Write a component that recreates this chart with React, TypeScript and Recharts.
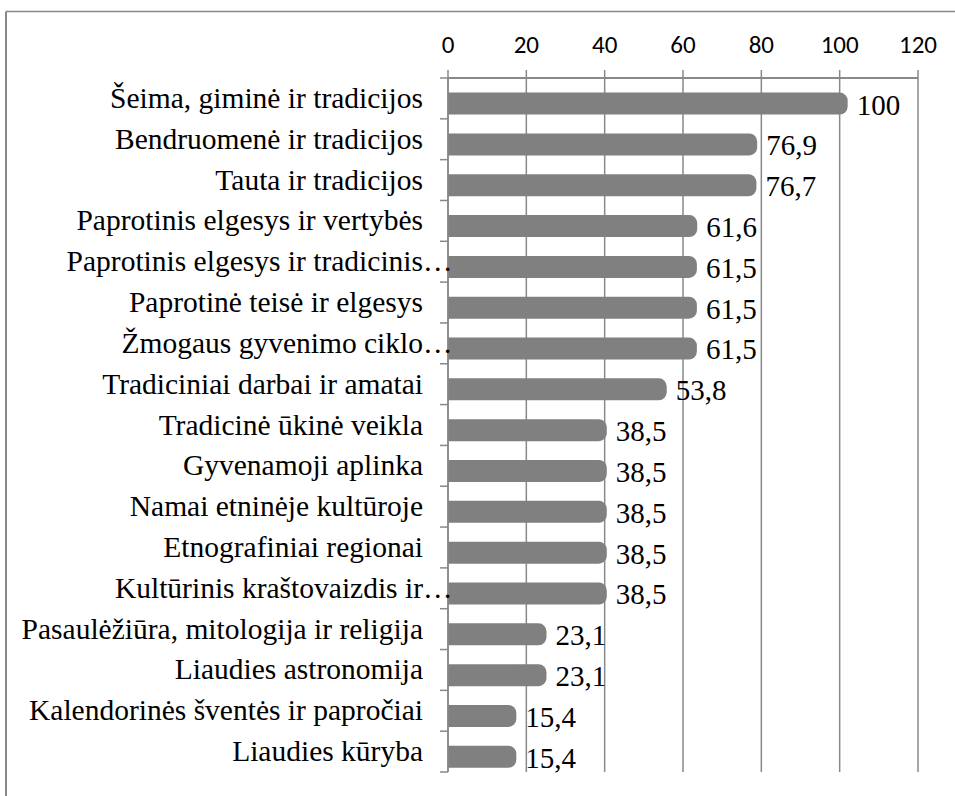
import React from "react";
import {
  Bar,
  BarChart,
  CartesianGrid,
  LabelList,
  XAxis,
  YAxis,
} from "recharts";

const categories = [
  "Šeima, giminė ir tradicijos",
  "Bendruomenė ir tradicijos",
  "Tauta ir tradicijos",
  "Paprotinis elgesys ir vertybės",
  "Paprotinis elgesys ir tradicinis…",
  "Paprotinė teisė ir elgesys",
  "Žmogaus gyvenimo ciklo…",
  "Tradiciniai darbai ir amatai",
  "Tradicinė ūkinė veikla",
  "Gyvenamoji aplinka",
  "Namai etninėje kultūroje",
  "Etnografiniai regionai",
  "Kultūrinis kraštovaizdis ir…",
  "Pasaulėžiūra, mitologija ir religija",
  "Liaudies astronomija",
  "Kalendorinės šventės ir papročiai",
  "Liaudies kūryba",
];

const values = [
  100, 76.9, 76.7, 61.6, 61.5, 61.5, 61.5, 53.8, 38.5, 38.5, 38.5, 38.5, 38.5,
  23.1, 23.1, 15.4, 15.4,
];

const xTicks = [0, 20, 40, 60, 80, 100, 120];

const data = categories.map((name, i) => ({ name, value: values[i] }));

const WIDTH = 955;
const HEIGHT = 796;
const MARGIN = { top: 18, right: 37, bottom: 24, left: 8 };
const X_AXIS_HEIGHT = 60;
const Y_AXIS_WIDTH = 440;
const PLOT_H = HEIGHT - MARGIN.top - MARGIN.bottom - X_AXIS_HEIGHT;
const BAND = PLOT_H / categories.length;

const LINE = "#898989";
const BAR = "#808080";
const SERIF = '"Times New Roman", "Liberation Serif", serif';
const SANS = 'Calibri, Carlito, Lato, sans-serif';

// Excel-style bar: rounded right end, slightly past its value, sits low in the band
function RoundBar(props: any) {
  const { x, y, width, height } = props;
  const top = y + 5.6;
  const w = width + 8;
  const r = 8;
  const d = `M${x},${top} H${x + w - r} A${r},${r} 0 0 1 ${x + w},${top + r} V${
    top + height - r
  } A${r},${r} 0 0 1 ${x + w - r},${top + height} H${x} Z`;
  return <path d={d} fill={BAR} />;
}

function CategoryTick(props: any) {
  const { x, y, payload, index } = props;
  const label: string = payload.value;
  const trunc = label.endsWith("…");
  const axisX = x + 25;
  return (
    <g>
      <line x1={axisX - 8} x2={axisX} y1={y - BAND / 2} y2={y - BAND / 2} stroke={LINE} strokeWidth={1.5} />
      {index === categories.length - 1 && (
        <line x1={axisX - 8} x2={axisX} y1={y + BAND / 2} y2={y + BAND / 2} stroke={LINE} strokeWidth={1.5} />
      )}
      <text x={x} y={y + 9.5} textAnchor="end" fontFamily={SERIF} fontSize={29.5} fill="#000">
        {trunc ? label.slice(0, -1) : label}
      </text>
      {trunc && (
        <text x={x} y={y + 9.5} textAnchor="start" fontFamily={SERIF} fontSize={29.5} fill="#000">
          …
        </text>
      )}
    </g>
  );
}

function ValueLabel(props: any) {
  const { x, y, width, height, value } = props;
  return (
    <text
      x={x + width + 17}
      y={y + height / 2 + 16.5}
      fontFamily={SERIF}
      fontSize={29}
      fill="#000"
    >
      {String(value).replace(".", ",")}
    </text>
  );
}

export default function App() {
  return (
    <div style={{ position: "absolute", left: 0, top: 0, background: "#fff" }}>
      <svg width={WIDTH} height={HEIGHT} style={{ position: "absolute", left: 0, top: 0 }}>
        <line x1={6} y1={11.5} x2={WIDTH} y2={11.5} stroke={LINE} strokeWidth={1.5} />
        <line x1={6} y1={11.5} x2={6} y2={HEIGHT} stroke={LINE} strokeWidth={2} />
      </svg>
      <BarChart
        width={WIDTH}
        height={HEIGHT}
        data={data}
        layout="vertical"
        margin={MARGIN}
        barSize={22}
      >
        <CartesianGrid horizontal={false} stroke={LINE} strokeWidth={1.5} />
        <XAxis
          type="number"
          orientation="top"
          domain={[0, 120]}
          ticks={xTicks}
          height={X_AXIS_HEIGHT}
          interval={0}
          axisLine={{ stroke: LINE, strokeWidth: 2 }}
          tickLine={{ stroke: LINE, strokeWidth: 1.5 }}
          tickSize={8}
          tickMargin={17}
          tick={{ fill: "#000", fontFamily: SANS, fontSize: 25 }}
        />
        <YAxis
          type="category"
          dataKey="name"
          width={Y_AXIS_WIDTH}
          interval={0}
          axisLine={{ stroke: LINE, strokeWidth: 1.5 }}
          tickLine={false}
          tickSize={8}
          tickMargin={17}
          tick={<CategoryTick />}
        />
        <Bar dataKey="value" shape={<RoundBar />} isAnimationActive={false}>
          <LabelList dataKey="value" content={<ValueLabel />} />
        </Bar>
      </BarChart>
    </div>
  );
}
